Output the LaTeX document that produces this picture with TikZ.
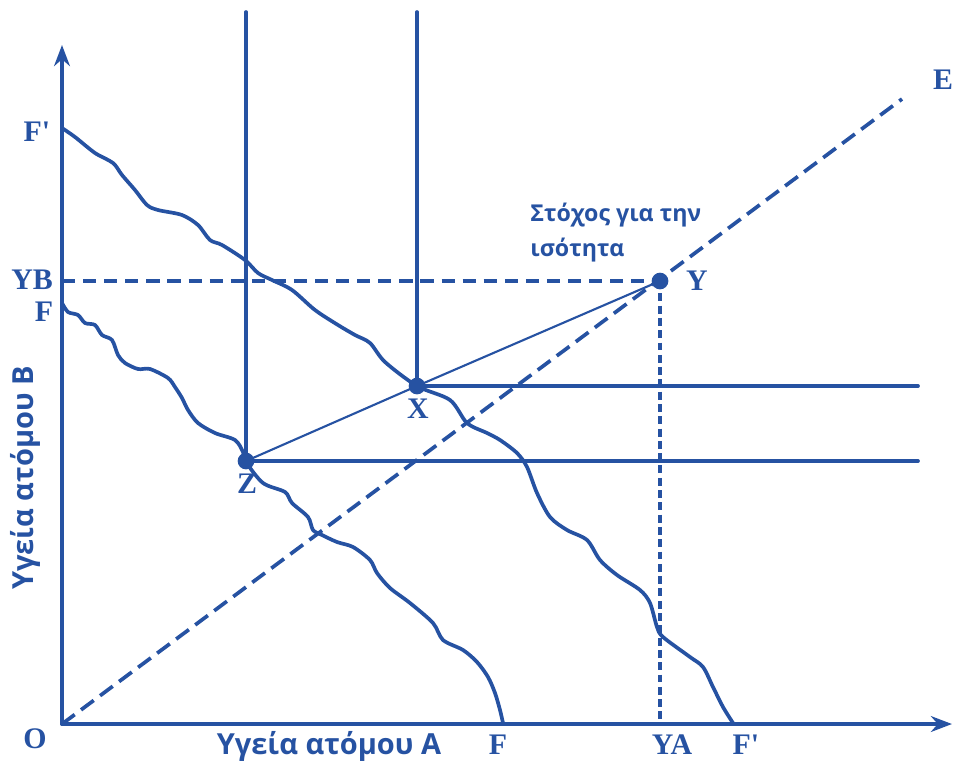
\documentclass[tikz,border=0pt]{standalone}
\usepackage{fontspec}
\setmainfont{Liberation Serif}
\newfontfamily\grfont{Open Sans}
\usetikzlibrary{arrows.meta}
\definecolor{ib}{RGB}{38,82,162}
\tikzset{
  ln/.style={draw=ib, line width=2.1pt, line cap=round, line join=round},
  thinln/.style={draw=ib, line width=1.2pt},
  dashE/.style={draw=ib, line width=2.1pt, dash pattern=on 9pt off 4.5pt},
  dashB/.style={draw=ib, line width=2pt, dash pattern=on 7.5pt off 4.5pt},
  dashA/.style={draw=ib, line width=2.2pt, dash pattern=on 4.5pt off 2.5pt},
  dot/.style={circle, fill=ib, inner sep=0pt, minimum size=9.5pt},
  lab/.style={text=ib, font=\fontsize{17}{19}\selectfont\bfseries, inner sep=0pt},
  axlab/.style={text=ib, font=\grfont\fontsize{16.5}{18}\selectfont\bfseries, inner sep=0pt},
  axarrow/.style={-{Stealth[length=12pt,width=9pt]}}
}
\begin{document}
\begin{tikzpicture}[x=0.02cm,y=-0.02cm]
\useasboundingbox (0,0) rectangle (955,762);
% key points
\coordinate (O) at (62,724);
\coordinate (ytip) at (62,45);
\coordinate (xtip) at (952,724);
\coordinate (Etop) at (902,99);
\coordinate (YBpt) at (62,281);
\coordinate (YApt) at (660,724);
\coordinate (vZtop) at (246,12);
\coordinate (vXtop) at (417,12);
\coordinate (hZend) at (918,461);
\coordinate (hXend) at (918,386);
% equality line
\draw[dashE] (O) -- (Etop);
% curves
\draw[ln] plot[smooth, tension=0.5] coordinates {
 (62,128) (75,137) (95,153) (113,163) (122,175) (135,190) (147,205) (158,210)
 (182,215) (198,225) (210,240) (222,245) (245,260) (258,273) (272,280) (292,290)
 (315,310) (338,325) (355,335) (370,343) (385,362) (417,386) (450,400) (467,423)
 (487,433) (500,440) (517,453) (527,467) (537,493) (550,517) (567,530) (587,540)
 (600,560) (617,575) (640,590) (650,603) (657,627) (663,637) (690,657) (703,667)
 (713,687) (723,707) (733,723)};
\draw[ln] plot[smooth, tension=0.5] coordinates {
 (62,303) (68,312) (78,315) (85,323) (95,325) (102,335) (112,340) (118,355)
 (125,363) (138,369) (150,369) (168,378) (175,387) (182,398) (188,410) (198,423)
 (215,433) (235,440) (243,452) (246,462) (263,483) (285,492) (292,503) (308,517)
 (313,530) (322,535) (337,542) (353,547) (370,560) (377,573) (390,588) (410,603)
 (433,623) (443,640) (463,650) (477,662) (488,677) (495,693) (500,710) (503,723)};
% points
\node[dot] (Z) at (246,461) {};
\node[dot] (X) at (417,386) {};
\node[dot] (Y) at (660,281) {};
% vertical and horizontal lines
\draw[ln] (vZtop) -- (Z.center) -- (hZend);
\draw[ln] (vXtop) -- (X.center) -- (hXend);
\draw[thinln] (Z.center) -- (X.center) -- (Y.center);
\draw[dashB] (YBpt) -- (Y.center);
\draw[dashA] (Y.center) -- (YApt);
% axes
\draw[ln, axarrow] (O) -- (ytip);
\draw[ln, axarrow] (O) -- (xtip);
% labels
\node[lab] (lFp) at (37,132) {F\textquotesingle};
\node[lab] (lYB) at (32,280) {YB};
\node[lab] (lF) at (44,312) {F};
\node[lab] (lO) at (35,739) {O};
\node[lab] (lFb) at (498,745) {F};
\node[lab] (lYA) at (672,745) {YA};
\node[lab] (lFpb) at (746,745) {F\textquotesingle};
\node[lab] (lE) at (943,80) {E};
\node[lab] (lY) at (697,281) {Y};
\node[lab] (lX) at (418,409) {X};
\node[lab] (lZ) at (247,484) {Z};
\node[axlab] (ax) at (329,746) {Υγεία ατόμου A};
\node[axlab, rotate=90] (ay) at (25,478) {Υγεία ατόμου B};
\node[text=ib, font=\grfont\fontsize{13.2}{19.5}\selectfont\bfseries, inner sep=0pt, align=left, anchor=north west] (goal) at (530,203) {Στόχος για την\\ισότητα};
\end{tikzpicture}
\end{document}
